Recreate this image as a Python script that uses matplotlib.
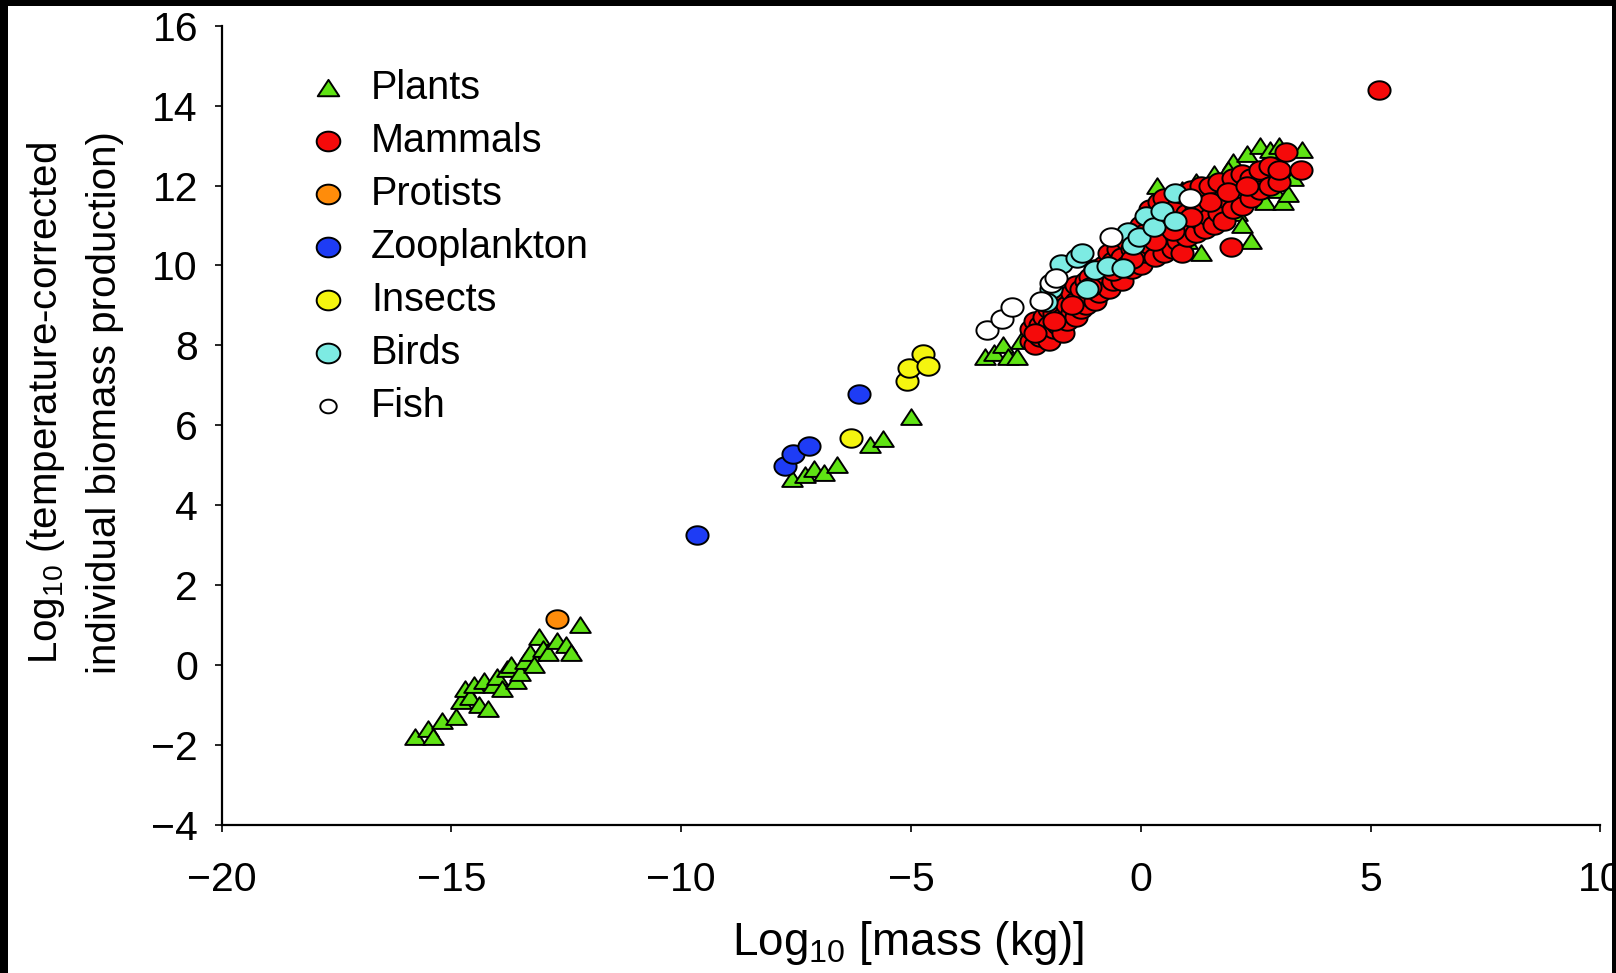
import numpy as np
import matplotlib
matplotlib.use("Agg")
import matplotlib.pyplot as plt
from matplotlib.path import Path
from matplotlib.patches import Rectangle

plt.rcParams['font.family'] = ['Liberation Sans', 'DejaVu Sans']
plt.rcParams['mathtext.default'] = 'regular'

# ---- data ----
plants_x = [-15.8, -15.5, -15.4, -15.2, -14.9, -14.8, -14.7, -14.6, -14.5, -14.4,
            -14.3, -14.2, -14.1, -14.0, -13.9, -13.8, -13.7, -13.6, -13.5, -13.4,
            -13.3, -13.2, -13.1, -13.0, -12.9, -12.7, -12.5, -12.4, -12.2,
            -7.6, -7.3, -7.1, -6.9, -6.6, -5.9, -5.6, -5.0,
            -3.4, -3.2, -3.0, -2.9, -2.7, -2.6, -2.3, -2.0, -1.5, -1.0, -0.5, 0.0,
            0.35, 0.6, 1.0, 1.3, 1.2, 1.5, 1.8, 2.0, 2.1, 2.2, 2.3, 2.4, 2.5, 2.6,
            2.7, 2.8, 2.9, 3.0, 3.1, 3.2, 3.5, 2.6, 1.9, 0.9, 1.6, 3.3]
plants_y = [-1.8, -1.6, -1.8, -1.4, -1.3, -0.9, -0.6, -0.8, -0.5, -1.0,
            -0.4, -1.1, -0.5, -0.3, -0.6, -0.1, 0.0, -0.4, -0.2, 0.1,
            0.3, 0.0, 0.7, 0.4, 0.3, 0.6, 0.5, 0.3, 1.0,
            4.65, 4.75, 4.9, 4.8, 5.0, 5.5, 5.65, 6.2,
            7.7, 7.8, 8.0, 7.7, 7.7, 8.1, 8.3, 8.6, 9.2, 9.7, 10.1, 10.5,
            12.0, 10.7, 10.6, 10.3, 12.1, 11.2, 11.5, 12.6, 11.3, 11.0, 12.8, 10.6,
            11.9, 13.0, 11.6, 12.9, 11.9, 13.0, 11.6, 11.8, 12.9, 12.2, 12.4, 11.9,
            12.3, 12.2]

mammals_x = [-2.4, -2.4, -2.3, -2.3, -2.2, -2.2, -2.1, -2.1, -2.0, -2.0, -2.0,
             -1.9, -1.9, -1.8, -1.8, -1.7, -1.7, -1.7, -1.6, -1.6, -1.5, -1.5,
             -1.4, -1.4, -1.4, -1.3, -1.3, -1.2, -1.2, -1.1, -1.1, -1.0, -1.0, -1.0,
             -0.9, -0.9, -0.8, -0.8, -0.7, -0.7, -0.7, -0.6, -0.6, -0.5, -0.5,
             -0.4, -0.4, -0.3, -0.3, -0.2, -0.2, -0.1, -0.1, 0.0, 0.0, 0.0,
             0.1, 0.1, 0.2, 0.2, 0.3, 0.3, 0.4, 0.4, 0.5, 0.5, 0.5, 0.6, 0.6,
             0.7, 0.7, 0.8, 0.8, 0.9, 0.9, 0.9, 1.0, 1.0, 1.1, 1.1, 1.2, 1.2,
             1.3, 1.3, 1.4, 1.4, 1.5, 1.5, 1.6, 1.6, 1.7, 1.7, 1.8, 1.8, 1.97,
             2.0, 2.0, 2.2, 2.2, 2.4, 2.4, 2.6, 2.6, 2.8, 2.8, 3.0, 3.0,
             3.16, 3.48, 5.18,
             -2.3, -1.9, -1.5, -1.1, -0.6, -0.2, 0.3, 0.7, 1.1, 1.5, 1.9, 2.3]
mammals_y = [8.1, 8.4, 8.0, 8.6, 8.2, 8.5, 8.3, 8.7, 8.1, 8.5, 8.9,
             8.4, 8.8, 8.5, 9.0, 8.3, 8.7, 9.2, 8.6, 9.0, 8.8, 9.3,
             8.7, 9.1, 9.5, 8.9, 9.4, 9.0, 9.6, 9.2, 9.7, 9.1, 9.5, 9.9,
             9.3, 9.8, 9.5, 10.0, 9.4, 9.9, 10.3, 9.6, 10.1, 9.8, 10.4,
             9.6, 10.2, 10.0, 10.6, 9.9, 10.4, 10.2, 10.8, 10.0, 10.5, 11.0,
             10.3, 10.8, 10.5, 11.4, 10.2, 10.9, 10.6, 11.6, 10.3, 11.0, 11.7, 10.8, 11.3,
             10.4, 11.1, 10.6, 11.5, 10.3, 11.0, 11.8, 10.7, 11.3, 11.0, 11.9, 10.8, 11.5,
             11.1, 12.0, 10.9, 11.4, 11.2, 12.0, 11.0, 11.6, 11.3, 12.1, 11.1, 11.7, 10.45,
             11.4, 12.2, 11.5, 12.3, 11.7, 12.2, 11.9, 12.4, 12.0, 12.5, 12.1, 12.4,
             12.83, 12.39, 14.4,
             8.3, 8.6, 9.0, 9.45, 9.85, 10.15, 10.6, 10.85, 11.2, 11.6, 11.85, 12.0]

protists_x = [-12.7]
protists_y = [1.14]

zoo_x = [-9.66, -7.74, -7.56, -7.22, -6.14]
zoo_y = [3.25, 4.98, 5.29, 5.47, 6.79]

insects_x = [-6.3, -5.09, -5.04, -4.75, -4.64]
insects_y = [5.68, 7.1, 7.43, 7.79, 7.48]

birds_x = [-1.95, -2.06, -1.73, -1.39, -1.28, -1.17, -1.0, -0.72, -0.38, -0.27,
           -0.16, -0.04, 0.11, 0.29, 0.47, 0.74, 0.74]
birds_y = [9.42, 9.08, 10.04, 10.19, 10.32, 9.42, 9.88, 9.99, 9.94, 10.84,
           10.5, 10.7, 11.23, 10.97, 11.35, 11.1, 11.82]

fish_x = [-3.34, -3.03, -2.8, -2.18, -1.95, -1.84, -0.65, 1.08]
fish_y = [8.39, 8.65, 8.95, 9.11, 9.55, 9.68, 10.71, 11.69]

labels = ['Plants', 'Mammals', 'Protists', 'Zooplankton', 'Insects', 'Birds', 'Fish']
colors = ['#5FE314', '#F50A0A', '#FF8C0A', '#1E3CF5', '#F5F50F', '#7DEBE3', '#FFFFFF']
series = [(plants_x, plants_y), (mammals_x, mammals_y), (protists_x, protists_y),
          (zoo_x, zoo_y), (insects_x, insects_y), (birds_x, birds_y), (fish_x, fish_y)]

# the original is stretched sideways, so markers are a bit wide
t = np.linspace(0, 2 * np.pi, 64)
ellipse = Path(np.column_stack([1.2 * np.cos(t), np.sin(t)]), closed=True)
tri = Path([(-0.5, -0.36), (0.5, -0.36), (0.0, 0.40), (-0.5, -0.36)], closed=True)
markers = [tri, ellipse, ellipse, ellipse, ellipse, ellipse, ellipse]
sizes = [220, 255, 255, 255, 255, 255, 255]

fig = plt.figure(figsize=(16.16, 9.73), dpi=100)
ax = fig.add_axes([0.1371, 0.1526, 0.8533, 0.8209])

for (xs, ys), c, m, s in zip(series, colors, markers, sizes):
    ax.scatter(xs, ys, s=s, marker=m, facecolor=c, edgecolor='black',
               linewidths=1.4, zorder=3, clip_on=False)

# legend drawn by hand to sit where the original one is
leg_sizes = [240, 290, 290, 290, 290, 290, 140]
for i, (lab, c, m) in enumerate(zip(labels, colors, markers)):
    yy = 0.9226 - i * 0.0664
    ax.scatter([0.0769], [yy], s=leg_sizes[i], marker=m, facecolor=c,
               edgecolor='black', linewidths=1.4, transform=ax.transAxes, clip_on=False)
    ax.text(0.1083, yy, lab, transform=ax.transAxes, fontsize=28.5, va='center', ha='left')

ax.set_xlim(-20, 10)
ax.set_ylim(-4, 16)
ax.set_xticks(np.arange(-20, 11, 5))
ax.set_yticks(np.arange(-4, 17, 2))
ax.set_xticklabels(['\u221220', '\u221215', '\u221210', '\u22125', '0', '5', '10'])
ax.set_yticklabels(['\u22124', '\u22122', '0', '2', '4', '6', '8', '10', '12', '14', '16'])

for side in ['top', 'right']:
    ax.spines[side].set_visible(False)
for side in ['left', 'bottom']:
    ax.spines[side].set_linewidth(1.6)
ax.tick_params(axis='both', length=5, width=1.2, labelsize=29.5, direction='out')
ax.tick_params(axis='x', pad=21)
ax.tick_params(axis='y', pad=12)

ax.set_xlabel('Log$_{10}$ [mass (kg)]', fontsize=33, va='baseline')
ax.xaxis.set_label_coords(0.4978, -0.1634)
ax.set_ylabel('Log$_{10}$ (temperature-corrected\nindividual biomass production)',
              fontsize=29, va='center', ha='center', linespacing=1.65)
ax.yaxis.set_label_coords(-0.1065, 0.5277)

# black frame around the picture
for r in [(0, 0, 8 / 1616, 1), (1612 / 1616, 0, 4 / 1616, 1), (0, 967 / 973, 1, 6 / 973)]:
    fig.add_artist(Rectangle((r[0], r[1]), r[2], r[3], transform=fig.transFigure,
                             facecolor='black', edgecolor='none', zorder=10))

fig.savefig('out.png', dpi=100)
